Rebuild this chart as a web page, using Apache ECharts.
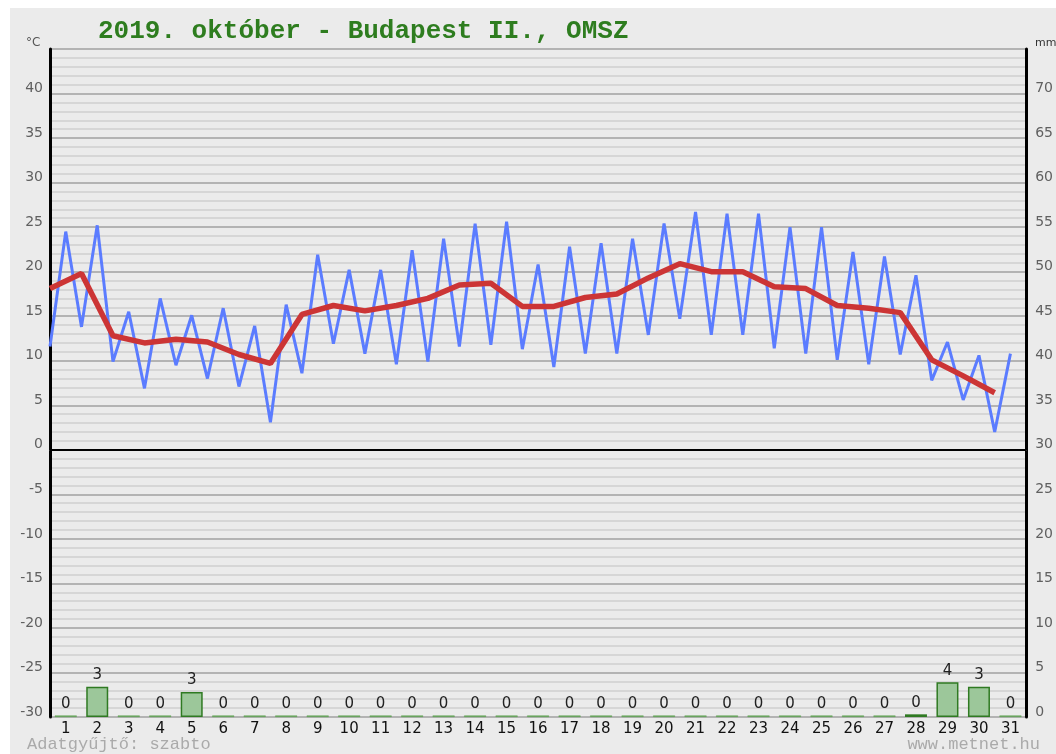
<!DOCTYPE html>
<html><head><meta charset="utf-8">
<script src="https://cdn.jsdelivr.net/npm/echarts/dist/echarts.min.js"></script>
<style>
html,body{margin:0;padding:0;background:#fff;}
#bg{position:absolute;left:10px;top:8px;width:1046px;height:746px;background:#ebebeb;}
#chart{position:absolute;left:0;top:0;width:1056px;height:754px;}
</style></head><body>
<div id="bg"></div><div id="chart"></div>
<script>
const days = ['1','2','3','4','5','6','7','8','9','10','11','12','13','14','15','16','17','18','19','20','21','22','23','24','25','26','27','28','29','30','31'];
// daily minimum (plotted at start of day) and maximum (plotted at middle of day), °C
const tMin = [11.6,13.8,9.9,6.9,9.5,8.0,7.1,3.1,8.6,11.9,10.8,9.6,9.9,11.6,11.8,11.3,9.3,10.8,10.8,12.9,14.7,12.9,12.9,11.4,10.8,10.1,9.6,10.7,7.8,5.6,2.0];
const tMax = [24.5,25.2,15.5,17.0,15.1,15.9,13.9,16.3,21.9,20.2,20.2,22.4,23.7,25.4,25.6,20.8,22.8,23.2,23.7,25.4,26.7,26.5,26.5,25.0,25.0,22.2,21.7,19.6,12.1,10.6,10.8];
// daily mean temperature, °C
const tMean = [18.1,19.8,12.8,12.0,12.4,12.1,10.7,9.7,15.2,16.2,15.6,16.2,17.0,18.5,18.7,16.1,16.1,17.1,17.5,19.3,20.9,20.0,20.0,18.3,18.1,16.2,15.9,15.4,10.1,8.3,6.4];
// daily precipitation, mm
const precip = [0,3.4,0,0,2.8,0,0,0,0,0,0,0,0,0,0,0,0,0,0,0,0,0,0,0,0,0,0,0.3,3.9,3.4,0];
const title = '2019. október - Budapest II., OMSZ';

const minMaxData = [];
for (let i = 0; i < days.length; i++) {
  minMaxData.push([i, tMin[i]]);
  minMaxData.push([i + 0.5, tMax[i]]);
}
const meanData = tMean.map((v, i) => [i, v]);
const barData = precip.map(v => (v === 0
  ? {value: v, itemStyle: {color: '#5fa052', borderColor: '#5fa052', borderWidth: 0.5}}
  : {value: v}));

const chart = echarts.init(document.getElementById('chart'), null, {renderer: 'canvas'});
const lblFont = 'DejaVu Sans';
chart.setOption({
  backgroundColor: 'transparent',
  animation: false,
  title: {
    text: title, left: 93, top: 13,
    textStyle: {fontFamily: 'Liberation Mono', fontSize: 26, fontWeight: 'bold', color: '#2e7d1f'}
  },
  graphic: [
    {type: 'text', left: 26, top: 37, style: {text: '°C', fontFamily: lblFont, fontSize: 12, fill: '#555'}},
    {type: 'text', left: 1035, top: 38, style: {text: 'mm', fontFamily: lblFont, fontSize: 11, fill: '#333'}},
    {type: 'text', left: 27, top: 736, style: {text: 'Adatgyűjtő: szabto', fontFamily: 'Liberation Mono', fontSize: 17, fill: '#aaa'}},
    {type: 'text', right: 16, top: 736, style: {text: 'www.metnet.hu', fontFamily: 'Liberation Mono', fontSize: 17, fill: '#aaa'}}
  ],
  grid: {left: 50, right: 27, top: 49, bottom: 37},
  xAxis: [
    {type: 'category', data: days, boundaryGap: true,
     axisLine: {show: true, lineStyle: {color: '#555', width: 1}},
     axisTick: {show: false},
     axisLabel: {fontFamily: lblFont, fontSize: 15, color: '#111', margin: 5},
     splitLine: {show: false}},
    {type: 'value', min: 0, max: 31, show: false}
  ],
  yAxis: [
    {type: 'value', min: -30, max: 45, interval: 5, position: 'left',
     axisLine: {show: true, lineStyle: {color: '#000', width: 3}},
     axisTick: {show: false},
     axisLabel: {fontFamily: lblFont, fontSize: 14, color: '#606060', margin: 7,
                 verticalAlign: 'bottom', lineHeight: 10,
                 formatter: v => (v === 45 ? '' : String(v))},
     splitLine: {show: true, lineStyle: {color: '#a0a0a0', width: 1.5}},
     minorTick: {show: false, splitNumber: 5},
     minorSplitLine: {show: true, lineStyle: {color: '#d6d6d6', width: 2}}},
    {type: 'value', min: 0, max: 75, interval: 5, position: 'right',
     axisLine: {show: true, lineStyle: {color: '#000', width: 3}},
     axisTick: {show: false},
     axisLabel: {fontFamily: lblFont, fontSize: 14, color: '#606060', margin: 9,
                 verticalAlign: 'bottom', lineHeight: 10,
                 formatter: v => (v === 75 ? '' : String(v))},
     splitLine: {show: false}}
  ],
  series: [
    {type: 'bar', xAxisIndex: 0, yAxisIndex: 1, data: barData, barWidth: 22, barMinHeight: 1.5,
     itemStyle: {color: '#9cc79a', borderColor: '#2f7a22', borderWidth: 1.5},
     label: {show: true, position: 'top', distance: 4, fontFamily: lblFont, fontSize: 15, color: '#222',
             formatter: p => String(Math.round(p.value))},
     z: 2},
    {type: 'line', xAxisIndex: 1, yAxisIndex: 0, data: minMaxData, symbol: 'none',
     lineStyle: {color: '#5b7cff', width: 3}, z: 3,
     markLine: {silent: true, symbol: 'none', label: {show: false},
                lineStyle: {color: '#000', width: 2, type: 'solid'}, data: [{yAxis: 0}]}},
    {type: 'line', xAxisIndex: 1, yAxisIndex: 0, data: meanData, symbol: 'none',
     lineStyle: {color: '#cc3535', width: 5.5}, z: 4}
  ]
});
</script>
</body></html>
